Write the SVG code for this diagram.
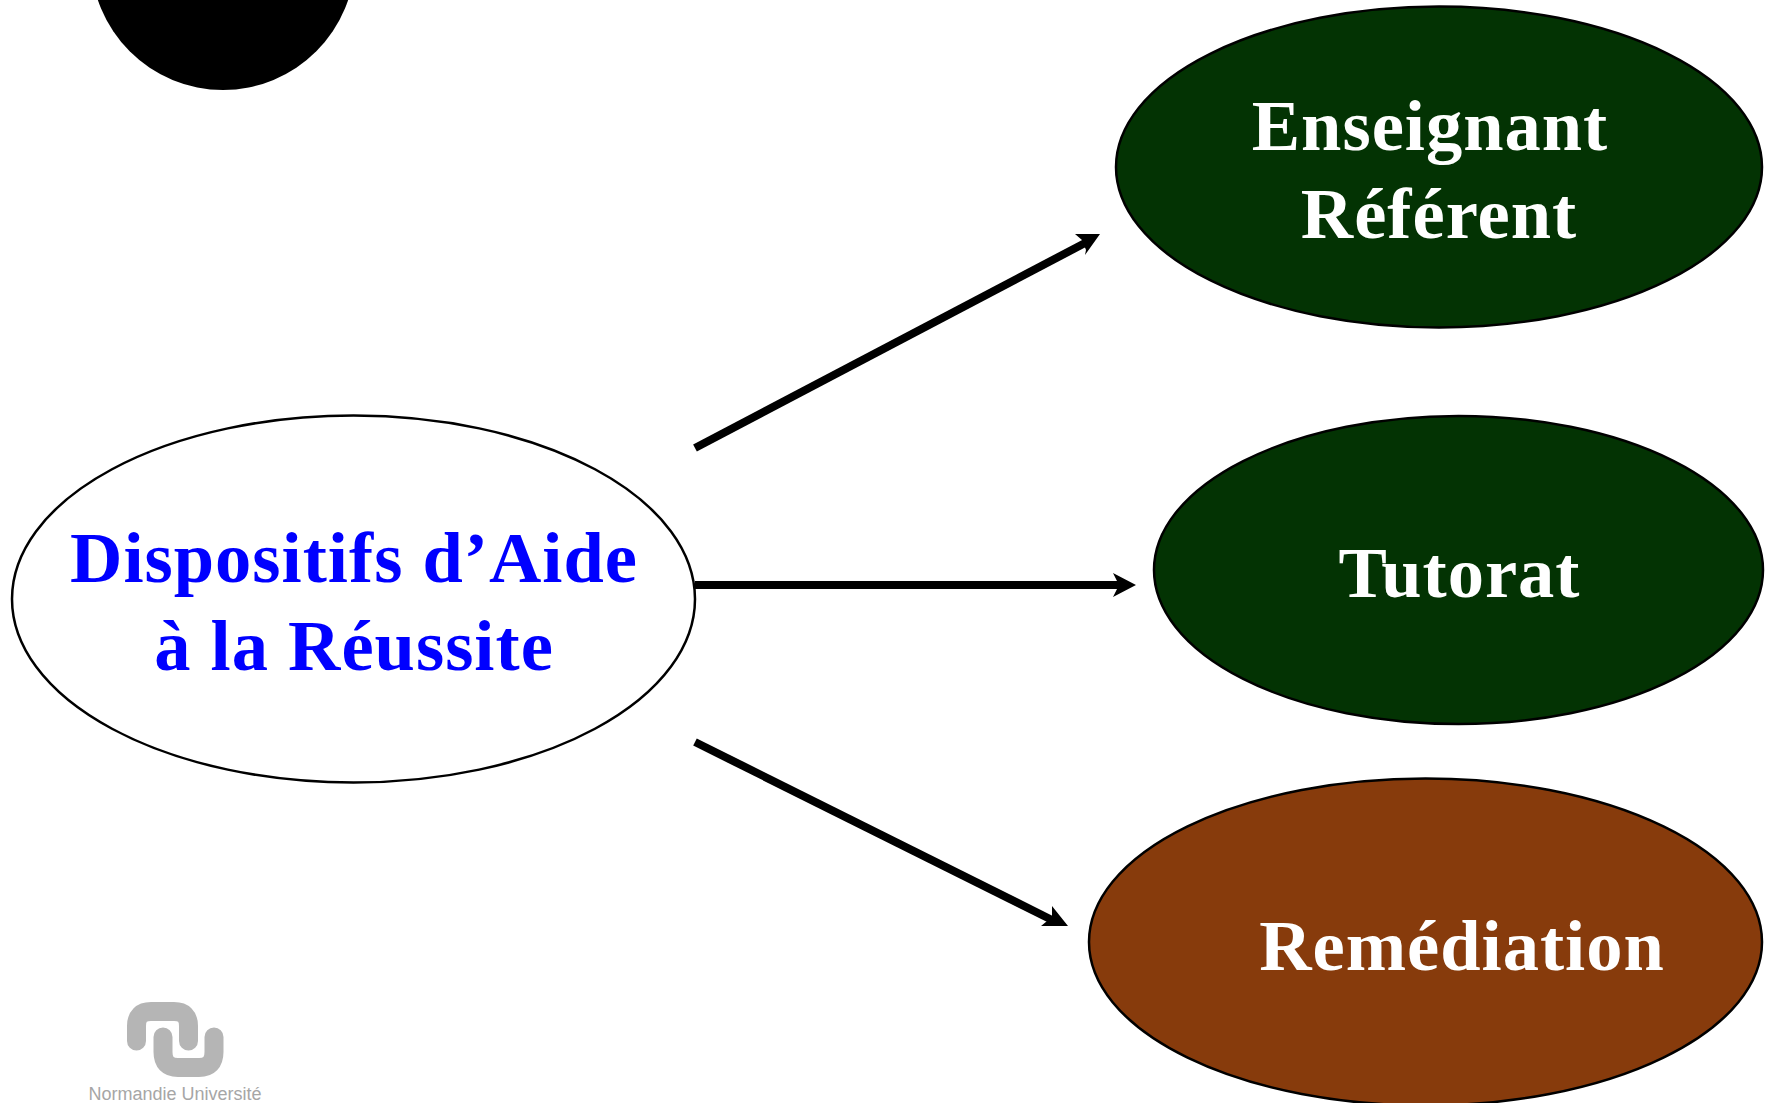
<svg xmlns="http://www.w3.org/2000/svg" width="1769" height="1103" viewBox="0 0 1769 1103">
<style>
.l{font-family:"Liberation Serif","Times New Roman",serif;font-weight:bold;font-size:72.5px;text-anchor:middle;letter-spacing:1px}
.w{fill:#fff}
.b{fill:#0000ff}
.e{stroke:#000;stroke-width:2.500}
.c{stroke:#000;stroke-width:8;fill:none}
.h{fill:#000}
.g{fill:none;stroke:#b5b5b5;stroke-width:19;stroke-linecap:round}
</style>
<rect width="1769" height="1103" fill="#fff"/>
<ellipse id="blob" cx="223" cy="-42" rx="132" ry="132" fill="#000"/>
<g id="connectors">
<line class="c" x1="695" y1="448" x2="1085" y2="243"/>
<polygon class="h" points="1100,234 1075,234 1082,240 1086,250 1085,255"/>
<line class="c" x1="695" y1="585" x2="1120" y2="585"/>
<polygon class="h" points="1136,585 1113,573 1119,585 1113,597"/>
<line class="c" x1="695" y1="742" x2="1052" y2="920"/>
<polygon class="h" points="1068,926 1052,906 1052,917 1041,926"/>
</g>
<g id="node-dispositifs">
<ellipse class="e" cx="353.500" cy="599" rx="341.500" ry="183.500" fill="#fff"/>
<text class="l b" x="354" y="582">Dispositifs d’Aide</text>
<text class="l b" x="354" y="670">à la Réussite</text>
</g>
<g id="node-enseignant">
<ellipse class="e" cx="1439" cy="167" rx="323" ry="160.500" fill="#033303"/>
<text class="l w" x="1430" y="150">Enseignant</text>
<text class="l w" x="1439" y="238">Référent</text>
</g>
<g id="node-tutorat">
<ellipse class="e" cx="1458.500" cy="570" rx="304.500" ry="154" fill="#033303"/>
<text class="l w" x="1459.500" y="597">Tutorat</text>
</g>
<g id="node-remediation">
<ellipse class="e" cx="1425.500" cy="942" rx="336.500" ry="163.500" fill="#873b0c"/>
<text class="l w" x="1462" y="970">Remédiation</text>
</g>
<g id="logo">
<path class="g" d="M136.500 1041V1026Q136.500 1011.500 151 1011.500H174Q188.500 1011.500 188.500 1026V1041"/>
<path class="g" d="M163 1037V1052Q163 1067.500 178 1067.500H199Q214 1067.500 214 1052V1037"/>
<text x="175" y="1100" font-family="'Liberation Sans',sans-serif" font-size="18" text-anchor="middle" fill="#a6a6a6">Normandie Université</text>
</g>
</svg>
